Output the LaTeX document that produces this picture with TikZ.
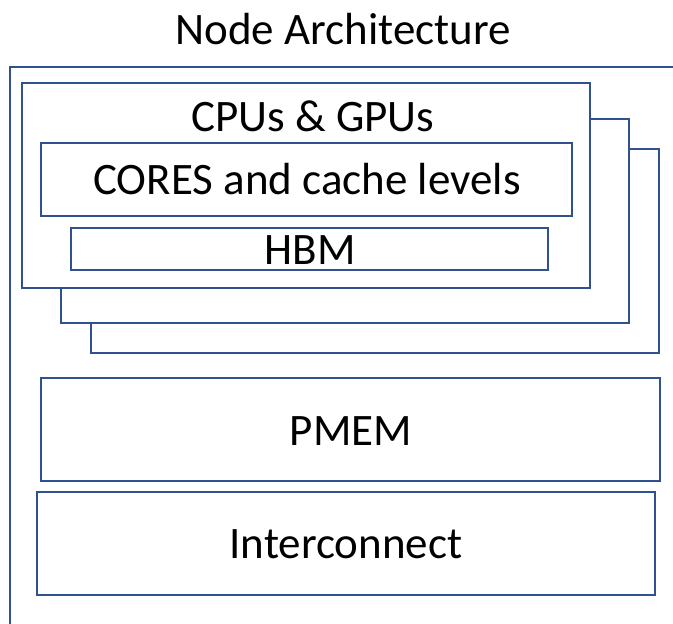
\documentclass[tikz,border=0pt]{standalone}
\usepackage{fontspec}
\setmainfont{Carlito}
\usepackage{tikz}
\usetikzlibrary{positioning}
\definecolor{frameblue}{RGB}{47,82,143}

\begin{document}
\begin{tikzpicture}[
    x=1pt, y=-1pt,
    every node/.style={font=\fontsize{45}{54}\selectfont},
    box/.style={rectangle, draw=frameblue, line width=2.4pt, fill=white, inner sep=0pt, outer sep=0pt},
    lbl/.style={anchor=base, inner sep=0pt},
    frame/.style={draw=frameblue, line width=2.4pt}
]
\useasboundingbox (0,0) rectangle (673,624);

% ============== TITLE + FRAME ==============
\node[lbl] (title) at (343,44.5) {Node Architecture};
\coordinate (fbot) at (10,626);
\coordinate (fright) at (675,67);
\draw[frame] (fbot) |- (fright);

% ============== CPU / GPU STACK ==============
\node[box, minimum width=568, minimum height=204] (back3) at (375,251) {};
\node[box, minimum width=568, minimum height=204] (back2) at (345,221) {};
\node[box, minimum width=568, minimum height=205] (cpu)   at (306,185.5) {};
\node[lbl] (cputxt) at (313,131.5) {CPUs \& GPUs};
\node[box, minimum width=531, minimum height=73] (cores) at (306.5,179.5) {};
\node[lbl] (corestxt) at (307,194.5) {CORES and cache levels};
\node[box, minimum width=477, minimum height=42] (hbm) at (309.5,249) {};
\node[lbl] (hbmtxt) at (310,264.5) {HBM};

% ============== MEMORY + NETWORK ==============
\node[box, minimum width=619, minimum height=103] (pmem)  at (350.5,429.5) {};
\node[lbl] (pmemtxt) at (351,445.5) {PMEM};
\node[box, minimum width=618, minimum height=103] (inter) at (346,543.5) {};
\node[lbl] (intertxt) at (346,558.5) {Interconnect};
\end{tikzpicture}
\end{document}
